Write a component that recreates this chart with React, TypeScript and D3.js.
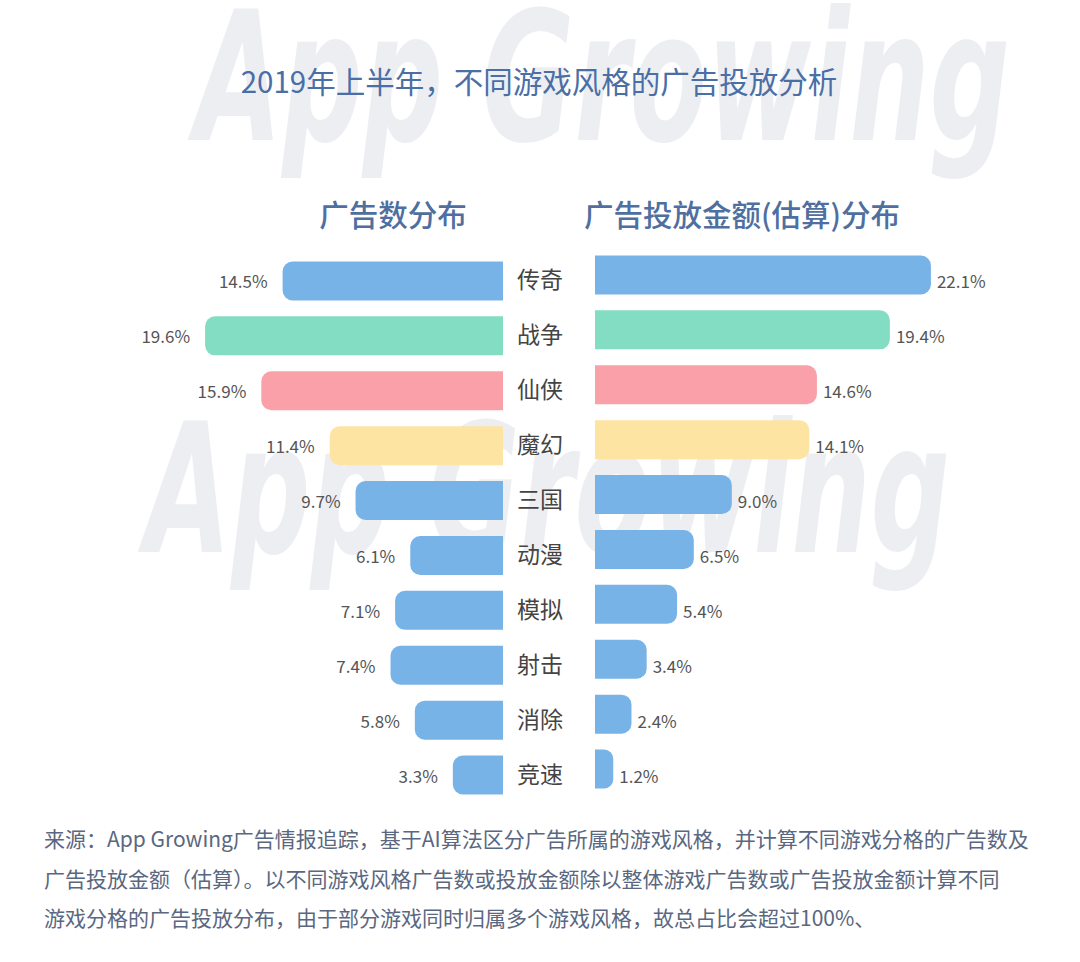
import React from "react";
import * as d3 from "d3";

const categories = ["传奇", "战争", "仙侠", "魔幻", "三国", "动漫", "模拟", "射击", "消除", "竞速"];
const adCountShare = [14.5, 19.6, 15.9, 11.4, 9.7, 6.1, 7.1, 7.4, 5.8, 3.3];
const adSpendShare = [22.1, 19.4, 14.6, 14.1, 9.0, 6.5, 5.4, 3.4, 2.4, 1.2];
const barColors = ["#72b0e6", "#7edcbf", "#f99ca6", "#fde39f", "#72b0e6", "#72b0e6", "#72b0e6", "#72b0e6", "#72b0e6", "#72b0e6"];

const title = "2019年上半年，不同游戏风格的广告投放分析";
const leftHeading = "广告数分布";
const rightHeading = "广告投放金额(估算)分布";
const footerLines = [
  "来源：App Growing广告情报追踪，基于AI算法区分广告所属的游戏风格，并计算不同游戏分格的广告数及",
  "广告投放金额（估算）。以不同游戏风格广告数或投放金额除以整体游戏广告数或广告投放金额计算不同",
  "游戏分格的广告投放分布，由于部分游戏同时归属多个游戏风格，故总占比会超过100%、",
];
const watermark = "App Growing";

const FONT = "'Noto Sans CJK SC', 'Noto Sans', sans-serif";

function leftBar(x0: number, x1: number, y: number, h: number, r: number) {
  const rr = Math.min(r, (x1 - x0) / 2, h / 2);
  const p = d3.path();
  p.moveTo(x1, y);
  p.lineTo(x0 + rr, y);
  p.arcTo(x0, y, x0, y + rr, rr);
  p.lineTo(x0, y + h - rr);
  p.arcTo(x0, y + h, x0 + rr, y + h, rr);
  p.lineTo(x1, y + h);
  p.closePath();
  return p.toString();
}

function rightBar(x0: number, x1: number, y: number, h: number, r: number) {
  const rr = Math.min(r, (x1 - x0) / 2, h / 2);
  const p = d3.path();
  p.moveTo(x0, y);
  p.lineTo(x1 - rr, y);
  p.arcTo(x1, y, x1, y + rr, rr);
  p.lineTo(x1, y + h - rr);
  p.arcTo(x1, y + h, x1 - rr, y + h, rr);
  p.lineTo(x0, y + h);
  p.closePath();
  return p.toString();
}

export default function App() {
  const W = 1080;
  const H = 962;
  const y = d3.scaleBand<string>().domain(categories).range([253.5, 802.5]).paddingInner(0.29).paddingOuter(0.145);
  const xl = d3.scaleLinear().domain([0, 20]).range([503, 503 - 304]);
  const xr = d3.scaleLinear().domain([0, 20]).range([595, 595 + 304]);
  const bh = y.bandwidth();
  const rightShift = -6;

  return (
    <svg width={W} height={H} viewBox={`0 0 ${W} ${H}`} style={{ position: "absolute", left: 0, top: 0, background: "#fff" }} fontFamily={FONT}>
      <rect x={0} y={0} width={W} height={H} fill="#ffffff" />

      <g fontFamily="'DejaVu Sans', sans-serif" fontStyle="italic" fontWeight={700} fill="#b9c0cf" opacity={0.26} pointerEvents="none">
        <text x={195} y={140} fontSize={180} textLength={815} lengthAdjust="spacingAndGlyphs">{watermark}</text>
        <text x={145} y={552} fontSize={180} textLength={805} lengthAdjust="spacingAndGlyphs">{watermark}</text>
      </g>

      <text x={539} y={80} textAnchor="middle" dominantBaseline="central" fontSize={29.5} fill="#4a6ea6">{title}</text>

      <text x={393} y={213} textAnchor="middle" dominantBaseline="central" fontSize={29.5} fontWeight={500} fill="#4f6fa0">{leftHeading}</text>
      <text x={742} y={213} textAnchor="middle" dominantBaseline="central" fontSize={29.5} fontWeight={500} fill="#4f6fa0">{rightHeading}</text>

      {categories.map((c, i) => {
        const top = y(c)!;
        const cy = top + bh / 2;
        const lx = xl(adCountShare[i]);
        const rx = xr(adSpendShare[i]);
        return (
          <g key={c}>
            <path d={leftBar(lx, xl(0), top, bh, 10)} fill={barColors[i]} fillOpacity={0.96} />
            <path d={rightBar(xr(0), rx, top + rightShift, bh, 10)} fill={barColors[i]} fillOpacity={0.96} />
            <text x={lx - 15} y={cy} textAnchor="end" dominantBaseline="central" fontSize={17} fill="#555">{adCountShare[i].toFixed(1)}%</text>
            <text x={rx + 6} y={cy} textAnchor="start" dominantBaseline="central" fontSize={17} fill="#555">{adSpendShare[i].toFixed(1)}%</text>
            <text x={540} y={cy - 2.5} textAnchor="middle" dominantBaseline="central" fontSize={23} fill="#444">{c}</text>
          </g>
        );
      })}

      {footerLines.map((t, i) => (
        <text key={i} x={44} y={838 + i * 39.5} dominantBaseline="central" fontSize={21} fill="#5a6780">{t}</text>
      ))}
    </svg>
  );
}
